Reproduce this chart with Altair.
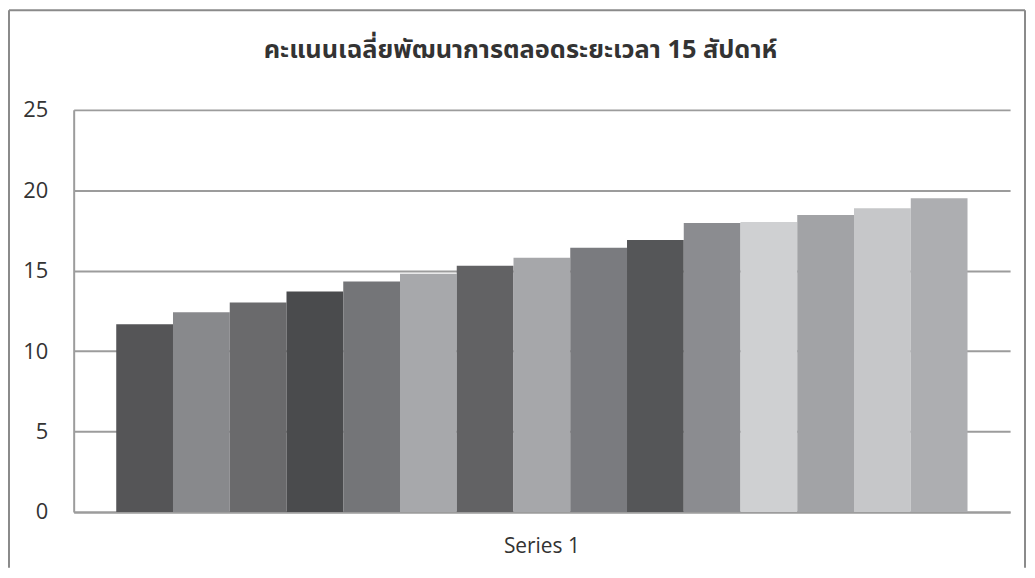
import altair as alt
import pandas as pd

title_text = "คะแนนเฉลี่ยพัฒนาการตลอดระยะเวลา 15 สัปดาห์"
series_name = "Series 1"
weeks = [str(i) for i in range(1, 16)]
scores = [11.67, 12.41, 13.02, 13.70, 14.32, 14.81, 15.31, 15.80,
          16.42, 16.91, 17.96, 18.02, 18.46, 18.89, 19.51]
bar_colors = ["#555557", "#88898c", "#6a6a6c", "#4a4b4d", "#747578",
              "#a7a8ab", "#626264", "#a6a7aa", "#7a7b7f", "#555658",
              "#8b8c90", "#cfd0d2", "#a2a3a6", "#c6c7c9", "#adaeb1"]
y_ticks = [0, 5, 10, 15, 20, 25]

df = pd.DataFrame({"series": [series_name] * len(weeks), "week": weeks, "score": scores})

label_font = "Open Sans"
grid_col = "#9c9c9c"

bars = alt.Chart(df).mark_bar().encode(
    x=alt.X("series:N", title=None,
            scale=alt.Scale(paddingInner=0, paddingOuter=0.05),
            axis=alt.Axis(labelAngle=0, labelFontSize=21, labelFont=label_font,
                          labelColor="#333333", labelPadding=24, ticks=False,
                          domainColor=grid_col, domainWidth=2)),
    xOffset=alt.XOffset("week:N", sort=weeks,
                        scale=alt.Scale(paddingInner=0, paddingOuter=0)),
    y=alt.Y("score:Q", title=None,
            scale=alt.Scale(domain=[0, 25], nice=False),
            axis=alt.Axis(values=y_ticks, ticks=False, labelFontSize=22,
                          labelFont=label_font, labelColor="#333333", labelPadding=26,
                          gridColor=grid_col, gridWidth=2, domainColor=grid_col,
                          domainWidth=2)),
    color=alt.Color("week:N", sort=weeks,
                    scale=alt.Scale(domain=weeks, range=bar_colors), legend=None),
)

title_df = pd.DataFrame({"t": [title_text]})
title_mark = alt.Chart(title_df).mark_text(
    fontSize=25.5, fontWeight="bold", font="Noto Sans Thai, Noto Sans, sans-serif",
    color="#333333", align="center", baseline="alphabetic",
).encode(text="t:N", x=alt.value(449), y=alt.value(-52))

frame_df = pd.DataFrame({"k": [0]})
frame_col = "#8a8a8a"
left = alt.Chart(frame_df).mark_rule(color=frame_col, strokeWidth=2).encode(
    x=alt.value(-65), y=alt.value(-100), y2=alt.value(460))
top = alt.Chart(frame_df).mark_rule(color=frame_col, strokeWidth=2).encode(
    x=alt.value(-65), x2=alt.value(956), y=alt.value(-100))
right = alt.Chart(frame_df).mark_rule(color=frame_col, strokeWidth=2).encode(
    x=alt.value(956), y=alt.value(-100), y2=alt.value(460))

chart = alt.layer(bars, title_mark, left, top, right).properties(
    width=941,
    height=404,
    padding={"left": 66, "top": 101, "right": 17, "bottom": 55},
    autosize=alt.AutoSizeParams(type="none"),
    background="white",
).configure_view(stroke=None)

chart.save("out.html", embed_options={"renderer": "svg", "actions": False})
